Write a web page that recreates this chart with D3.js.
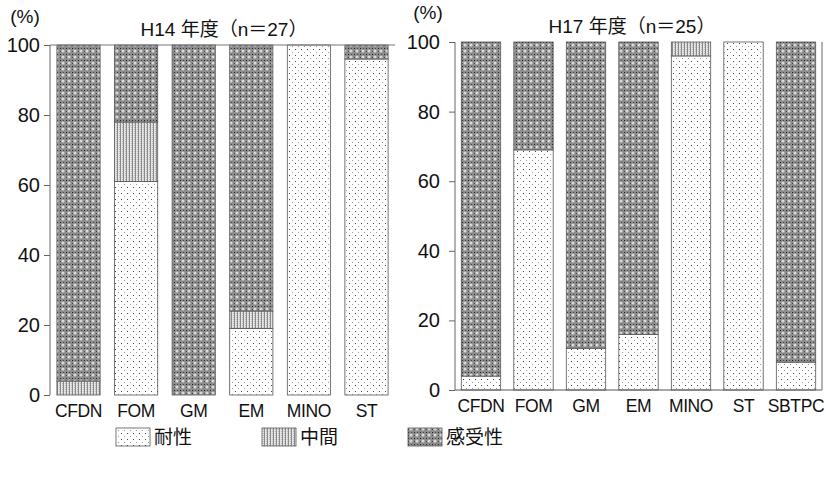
<!DOCTYPE html>
<html>
<head>
<meta charset="utf-8">
<script src="https://cdn.jsdelivr.net/npm/d3@7"></script>
<style>
  body { margin: 0; background: #fff; }
  svg { display: block; }
  text { font-family: "Liberation Sans", Arial, "Noto Sans CJK JP", sans-serif; fill: #111; }
  .jp { font-family: "Liberation Sans", "Noto Sans CJK JP", sans-serif; }
</style>
</head>
<body>
<div id="chartArea"></div>
<script>
// data (percent)
let keys = ['耐性', '中間', '感受性']

let drugs14 = ['CFDN', 'FOM', 'GM', 'EM', 'MINO', 'ST']
let resist14 = [0, 61, 0, 19, 100, 96]
let middle14 = [4, 17, 0, 5, 0, 0]
let suscept14 = [96, 22, 100, 76, 0, 4]

let drugs17 = ['CFDN', 'FOM', 'GM', 'EM', 'MINO', 'ST', 'SBTPC']
let resist17 = [4, 69, 12, 16, 96, 100, 8]
let middle17 = [0, 0, 0, 0, 4, 0, 0]
let suscept17 = [96, 31, 88, 84, 0, 0, 92]

let yTicks = [0, 20, 40, 60, 80, 100]

let svg = d3.select('#chartArea')
    .append('svg')
    .attr('width', 826)
    .attr('height', 478)

// fill patterns
let defs = svg.append('defs')

let pRes = defs.append('pattern').attr('id', 'p-res')
    .attr('patternUnits', 'userSpaceOnUse').attr('width', 6).attr('height', 6)
pRes.append('rect').attr('width', 6).attr('height', 6).attr('fill', '#fff')
pRes.append('rect').attr('x', 1).attr('y', 1).attr('width', 1).attr('height', 1).attr('fill', '#444')
pRes.append('rect').attr('x', 4).attr('y', 4).attr('width', 1).attr('height', 1).attr('fill', '#999')

let pMid = defs.append('pattern').attr('id', 'p-mid')
    .attr('patternUnits', 'userSpaceOnUse').attr('width', 3).attr('height', 2)
pMid.append('rect').attr('width', 3).attr('height', 2).attr('fill', '#e4e4e4')
pMid.append('rect').attr('x', 0).attr('width', 1).attr('height', 2).attr('fill', '#8a8a8a')
pMid.append('rect').attr('x', 2).attr('y', 1).attr('width', 1).attr('height', 1).attr('fill', '#bbb')

let pSus = defs.append('pattern').attr('id', 'p-sus')
    .attr('patternUnits', 'userSpaceOnUse').attr('width', 6).attr('height', 6)
pSus.append('rect').attr('width', 6).attr('height', 6).attr('fill', '#8c8c8c')
pSus.append('circle').attr('cx', 3).attr('cy', 3).attr('r', 1.6).attr('fill', '#d8d8d8')
pSus.append('rect').attr('x', 0).attr('y', 0).attr('width', 1).attr('height', 1).attr('fill', '#222')
pSus.append('rect').attr('x', 3).attr('y', 0).attr('width', 1).attr('height', 1).attr('fill', '#444')
pSus.append('rect').attr('x', 0).attr('y', 3).attr('width', 1).attr('height', 1).attr('fill', '#444')

let fills = { '耐性': 'url(#p-res)', '中間': 'url(#p-mid)', '感受性': 'url(#p-sus)' }

function drawChart(opt) {
  let rows = opt.drugs.map((d, i) => ({
    drug: d, '耐性': opt.res[i], '中間': opt.mid[i], '感受性': opt.sus[i]
  }))
  let series = d3.stack().keys(keys)(rows)

  let x = d3.scaleBand().domain(opt.drugs).range([opt.x0, opt.x1]).paddingInner(0.25).paddingOuter(0.12)
  let y = d3.scaleLinear().domain([0, 100]).range([opt.y0, opt.y1])

  let g = svg.append('g')

  g.selectAll('g.layer')
    .data(series)
    .enter()
    .append('g')
    .attr('class', 'layer')
    .attr('fill', d => fills[d.key])
    .selectAll('rect')
    .data(d => d.filter(s => s[1] - s[0] > 0))
    .enter()
    .append('rect')
    .attr('x', d => x(d.data.drug))
    .attr('y', d => y(d[1]))
    .attr('width', x.bandwidth())
    .attr('height', d => y(d[0]) - y(d[1]))
    .attr('stroke', '#555')
    .attr('stroke-width', 0.8)

  let axis = g.append('g')
    .attr('transform', `translate(${opt.x0},0)`)
    .call(d3.axisLeft(y).tickValues(yTicks).tickSize(6).tickPadding(opt.tickPad))
  axis.select('.domain').attr('stroke', '#666').attr('d', `M0,${opt.y0}V${opt.y1}`)
  axis.selectAll('.tick line').attr('stroke', '#666')
  axis.selectAll('.tick text').style('font-size', '20px').attr('fill', '#111')

  if (opt.topLine) {
    g.append('line').attr('x1', opt.x0).attr('x2', opt.x1)
      .attr('y1', y(100)).attr('y2', y(100)).attr('stroke', '#777')
  }
  if (opt.frame) {
    g.append('line').attr('x1', opt.x0).attr('x2', opt.x1)
      .attr('y1', y(0)).attr('y2', y(0)).attr('stroke', '#555')
    g.append('line').attr('x1', opt.x1).attr('x2', opt.x1)
      .attr('y1', y(0)).attr('y2', y(100)).attr('stroke', '#999').attr('stroke-width', 1.5)
  }

  g.selectAll('text.cat')
    .data(opt.drugs)
    .enter()
    .append('text')
    .attr('class', 'cat')
    .attr('x', d => x(d) + x.bandwidth() / 2)
    .attr('y', opt.y0 + 22)
    .attr('text-anchor', 'middle')
    .style('font-size', '17.5px')
    .style('letter-spacing', '-0.4px')
    .text(d => d)

  g.append('text').attr('class', 'jp')
    .attr('x', opt.titleX).attr('y', opt.titleY)
    .attr('text-anchor', 'middle')
    .style('font-size', '19px')
    .text(opt.title)

  g.append('text')
    .attr('x', opt.pctX).attr('y', opt.pctY)
    .attr('text-anchor', 'middle')
    .style('font-size', '19px')
    .text('(%)')
}

drawChart({
  drugs: drugs14, res: resist14, mid: middle14, sus: suscept14,
  x0: 50, x1: 395, y0: 395, y1: 45, topLine: true, frame: false, tickPad: 4,
  title: 'H14 年度（n＝27）', titleX: 224, titleY: 36, pctX: 25, pctY: 23
})

drawChart({
  drugs: drugs17, res: resist17, mid: middle17, sus: suscept17,
  x0: 455, x1: 822, y0: 390, y1: 42, topLine: false, frame: true, tickPad: 9,
  title: 'H17 年度（n＝25）', titleX: 632, titleY: 33, pctX: 428, pctY: 19
})

// legend
let legend = svg.append('g')
let legendX = [116, 262, 408]
keys.forEach((k, i) => {
  legend.append('rect')
    .attr('x', legendX[i]).attr('y', 428)
    .attr('width', 34).attr('height', 18)
    .attr('fill', fills[k]).attr('stroke', '#555').attr('stroke-width', 0.8)
  legend.append('text').attr('class', 'jp')
    .attr('x', legendX[i] + 38).attr('y', 444)
    .style('font-size', '19px')
    .text(k)
})
</script>
</body>
</html>
